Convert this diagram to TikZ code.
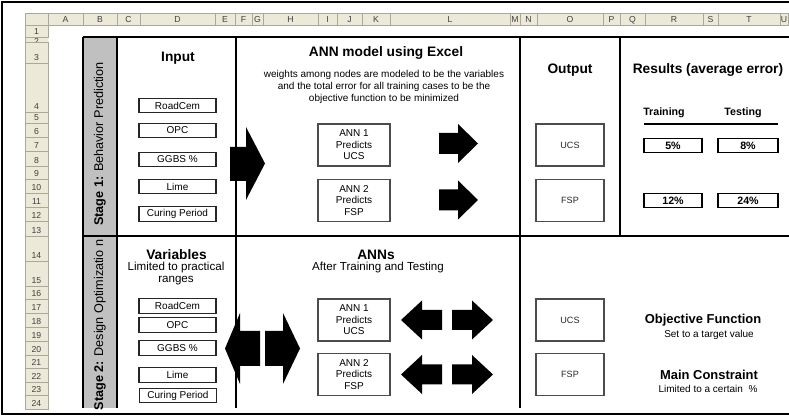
\documentclass[tikz,border=0pt]{standalone}
\usepackage{fontspec}
\setmainfont{Liberation Sans}
\definecolor{xlhead}{RGB}{236,233,216}
\definecolor{xlgrid}{RGB}{172,168,153}
\definecolor{stagegray}{RGB}{192,192,192}
\begin{document}
\begin{tikzpicture}[x=0.75pt,y=-0.75pt,
    hdrcell/.style={fill=xlhead,draw=xlgrid,line width=0.6pt},
    hdrtxt/.style={font=\fontsize{6.5}{7}\selectfont,text=black!75,inner sep=0pt},
    inbox/.style={draw=black!85,line width=0.9pt,minimum width=57.75pt,minimum height=11pt,inner sep=0pt,font=\fontsize{7.5}{9}\selectfont},
    annbox/.style={draw=black!70,line width=0.9pt,minimum width=54pt,minimum height=31.5pt,inner sep=0pt,align=center,font=\fontsize{7.5}{8.7}\selectfont},
    outbox/.style={draw=black!70,line width=0.9pt,minimum width=51pt,minimum height=31.5pt,inner sep=0pt,font=\fontsize{6.8}{8}\selectfont,text=black!85},
    resbox/.style={draw=black,line width=0.9pt,minimum height=11pt,inner sep=0pt,font=\bfseries\fontsize{8}{9}\selectfont},
    title/.style={font=\bfseries\fontsize{10.3}{12}\selectfont,inner sep=0pt},
    note/.style={font=\fontsize{7.5}{9}\selectfont,align=center,inner sep=0pt},
    stagetxt/.style={rotate=90,font=\fontsize{9.5}{11}\selectfont,inner sep=0pt}]
  \useasboundingbox (0,0) rectangle (789,416);

  % sheet headers
  \draw[hdrcell] (25,13) rectangle (48,25);
  \foreach \a/\b/\l in {48/83/A,83/117/B,117/140/C,140/215/D,215/235/E,235/252/F,
      252/263/G,263/318/H,318/337/I,337/362/J,362/390/K,390/510/L,510/520/M,
      520/537/N,537/603/O,603/620/P,620/645/Q,645/703/R,703/718/S,718/780/T,780/788/U}{
    \draw[hdrcell] (\a,13) rectangle (\b,25);
    \node[hdrtxt,anchor=base] (col\l) at ({(\a+\b)/2},22.5) {\l};
  }
  \foreach \a/\b/\l in {25/37/1,42/63/3,63/112/4,112/123/5,123/137/6,137/151/7,
      151/166/8,166/179/9,179/193/10,193/207/11,207/221/12,221/236/13,236/261/14,
      261/286/15,286/299/16,299/313/17,313/327/18,327/341/19,341/355/20,355/368/21,
      368/382/22,382/395/23,395/409/24}{
    \draw[hdrcell] (25,\a) rectangle (48,\b);
    \node[hdrtxt,anchor=base] (row\l) at (36.5,\b-2.5) {\l};
  }
  \begin{scope}
    \clip (25,37) rectangle (48,42);
    \draw[hdrcell] (25,37) rectangle (48,42);
    \node[hdrtxt,anchor=base] (row2) at (36.5,44.5) {2};
  \end{scope}

  % frame
  \draw[line width=1.5pt] (789,2)--(2,2)--(2,414.5)--(789,414.5);

  % table
  \fill[stagegray] (83,37) rectangle (117,408);
  \draw[line width=0.8pt] (83,37)--(83,408) (117,37)--(117,408)
       (236,37)--(236,408) (520,37)--(520,408) (620,37)--(620,236);
  \draw[line width=1.5pt] (83,37)--(789,37) (83,236)--(789,236);

  \node[stagetxt] (stage1) at (100,144) {\bfseries Stage 1: \mdseries Behavior Prediction};
  \node[stagetxt] (stage2) at (100,325) {\bfseries Stage 2: \mdseries Design Optimizatio n};

  % stage 1
  \node[title] (input) at (178,58) {Input};
  \node[title] (annxl) at (386,53) {ANN model using Excel};
  \node[note] (weights) at (384,87) {weights among nodes are modeled to be the variables\\
       and the total error for all training cases to be the\\objective function to be minimized};
  \node[title] (output) at (570,70) {Output};
  \node[title] (results) at (708,70) {Results (average error)};
  \node[font=\bfseries\fontsize{8}{9}\selectfont] (train) at (664,113) {Training};
  \node[font=\bfseries\fontsize{8}{9}\selectfont] (test) at (743,113) {Testing};
  \draw[line width=1.1pt] (644,124)--(778,124);

  \node[inbox] (roadA) at (177.5,105.5) {RoadCem};
  \node[inbox] (opcA) at (177.5,130.5) {OPC};
  \node[inbox] (ggbsA) at (177.5,159.5) {GGBS \%};
  \node[inbox] (limeA) at (177.5,186.5) {Lime};
  \node[inbox] (cureA) at (177.5,214) {Curing Period};

  \fill (230,147)--(246,147)--(246,127)--(265,163.5)--(246,200)--(246,181)--(230,181)--cycle;

  \node[annbox] (annA1) at (354,145) {ANN 1\\Predicts\\UCS};
  \node[annbox] (annA2) at (354,200.5) {ANN 2\\Predicts\\FSP};
  \foreach \c in {143.5,200}
    \fill (439,\c-10.5)--(458,\c-10.5)--(458,\c-19.5)--(478,\c)--(458,\c+19.5)
         --(458,\c+10.5)--(439,\c+10.5)--cycle;

  \node[outbox] (ucsA) at (570,145) {UCS};
  \node[outbox] (fspA) at (570,200.5) {FSP};

  \node[resbox,minimum width=43.5pt] (trainU) at (673,145.5) {5\%};
  \node[resbox,minimum width=45pt] (testU) at (748,145.5) {8\%};
  \node[resbox,minimum width=43.5pt] (trainF) at (673,200.5) {12\%};
  \node[resbox,minimum width=45pt] (testF) at (748,200.5) {24\%};

  % stage 2
  \node[title] (vars) at (176.5,255) {Variables};
  \node[note,font=\fontsize{8.7}{9}\selectfont] (ranges) at (176,274) {Limited to practical\\ranges};
  \node[title] (anns) at (376,255) {ANNs};
  \node[note,font=\fontsize{8.7}{9}\selectfont] (after) at (378,268) {After Training and Testing};

  \node[inbox] (roadB) at (177.5,306) {RoadCem};
  \node[inbox] (opcB) at (177.5,325) {OPC};
  \node[inbox] (ggbsB) at (177.5,348) {GGBS \%};
  \node[inbox] (limeB) at (177.5,375) {Lime};
  \node[inbox] (cureB) at (178,395.5) {Curing Period};

  \fill (225,348.5)--(240,313)--(240,331)--(260,331)--(260,366)--(240,366)--(240,384)--cycle;
  \fill (300,348.5)--(283,313)--(283,331)--(265,331)--(265,366)--(283,366)--(283,384)--cycle;

  \node[annbox] (annB1) at (354,320) {ANN 1\\Predicts\\UCS};
  \node[annbox] (annB2) at (354,374.5) {ANN 2\\Predicts\\FSP};
  \foreach \c in {320,374.5}{
    \fill (401,\c)--(422,\c-19.5)--(422,\c-10)--(442,\c-10)--(442,\c+10)--(422,\c+10)
         --(422,\c+19.5)--cycle;
    \fill (493,\c)--(472,\c-19.5)--(472,\c-10)--(452,\c-10)--(452,\c+10)--(472,\c+10)
         --(472,\c+19.5)--cycle;
  }

  \node[outbox] (ucsB) at (570,320) {UCS};
  \node[outbox] (fspB) at (570,374.5) {FSP};

  \node[font=\bfseries\fontsize{9.7}{11}\selectfont] (objfn) at (703,320) {Objective Function};
  \node[note] (target) at (709,335) {Set to a target value};
  \node[font=\bfseries\fontsize{9.7}{11}\selectfont] (constr) at (709,375) {Main Constraint};
  \node[note] (certain) at (708,389) {Limited to a certain~ \%};
\end{tikzpicture}
\end{document}
